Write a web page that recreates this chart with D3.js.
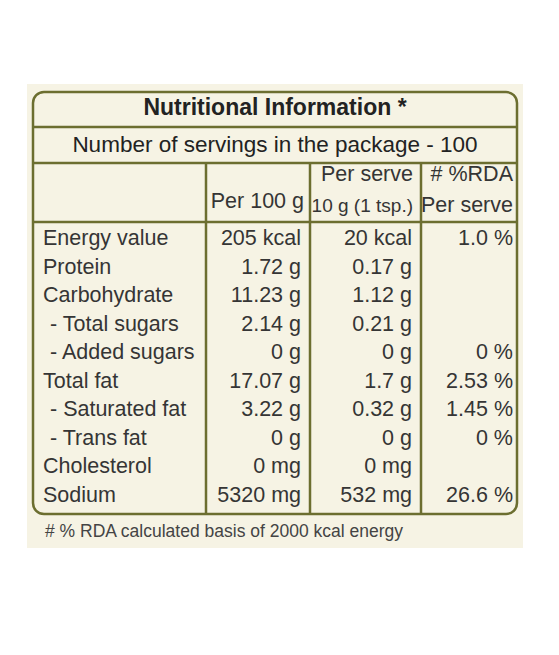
<!DOCTYPE html>
<html>
<head>
<meta charset="utf-8">
<script src="https://cdn.jsdelivr.net/npm/d3@7"></script>
<style>
  body { margin: 0; background: #fff; }
  svg text { font-family: "Liberation Sans", Arial, sans-serif; fill: #353535; }
</style>
</head>
<body>
<div id="vis"></div>
<script>
// table content
var title = "Nutritional Information *";
var servings = "Number of servings in the package - 100";
var colHeads = [["Per 100 g"], ["Per serve", "10 g (1 tsp.)"], ["# %RDA", "Per serve"]];
var nutrients = ["Energy value", "Protein", "Carbohydrate", "- Total sugars", "- Added sugars",
                 "Total fat", "- Saturated fat", "- Trans fat", "Cholesterol", "Sodium"];
var per100 = ["205 kcal", "1.72 g", "11.23 g", "2.14 g", "0 g", "17.07 g", "3.22 g", "0 g", "0 mg", "5320 mg"];
var perServe = ["20 kcal", "0.17 g", "1.12 g", "0.21 g", "0 g", "1.7 g", "0.32 g", "0 g", "0 mg", "532 mg"];
var rda = ["1.0 %", "", "", "", "0 %", "2.53 %", "1.45 %", "0 %", "", "26.6 %"];
var footnote = "# % RDA calculated basis of 2000 kcal energy";

var W = 559, H = 655;
var border = "#6c6e30";
var box = {left: 33, right: 517, top: 92, bottom: 514};
var cols = [box.left, 206, 310, 421, box.right];
var fs = 21.5;

var svg = d3.select("#vis").append("svg")
    .attr("width", W)
    .attr("height", H);

//cream panel behind the table
svg.append("rect")
    .attr("x", 27).attr("y", 84)
    .attr("width", 496).attr("height", 464)
    .attr("fill", "#f6f3e4");

// row positions (baselines)
var y = d3.scalePoint()
    .domain(nutrients)
    .range([245, 502]);

//header lines
var hLines = [127, 163, 222];
svg.selectAll(".hline")
    .data(hLines)
    .enter().append("line")
    .attr("x1", box.left).attr("x2", box.right)
    .attr("y1", function(d){ return d; })
    .attr("y2", function(d){ return d; })
    .attr("stroke", border)
    .attr("stroke-width", 2.5);

svg.selectAll(".vline")
    .data(cols.slice(1, 4))
    .enter().append("line")
    .attr("x1", function(d){ return d; })
    .attr("x2", function(d){ return d; })
    .attr("y1", 163).attr("y2", box.bottom)
    .attr("stroke", border)
    .attr("stroke-width", 2.5);

svg.append("rect")
    .attr("x", box.left).attr("y", box.top)
    .attr("width", box.right - box.left)
    .attr("height", box.bottom - box.top)
    .attr("rx", 11)
    .attr("fill", "none")
    .attr("stroke", border)
    .attr("stroke-width", 2.5);

var mid = (box.left + box.right) / 2;
svg.append("text")
    .attr("x", mid).attr("y", 115)
    .attr("text-anchor", "middle")
    .attr("font-size", 23)
    .attr("font-weight", "bold")
    .style("fill", "#222")
    .text(title);

svg.append("text")
    .attr("x", mid).attr("y", 152)
    .attr("text-anchor", "middle")
    .attr("font-size", 22.5)
    .style("fill", "#222")
    .text(servings);

// column headers, right aligned
var rightEdge = [304, 413, 513];
colHeads.forEach(function(lines, i){
    var ys = lines.length == 1 ? [208] : [181, 212];
    lines.forEach(function(t, j){
        svg.append("text")
            .attr("x", rightEdge[i])
            .attr("y", ys[j])
            .attr("text-anchor", "end")
            .attr("font-size", (i == 1 && j == 1) ? 19 : fs)
            .text(t);
    });
});

// labels
svg.selectAll(".label")
    .data(nutrients)
    .enter().append("text")
    .attr("x", function(d){ return d.charAt(0) == "-" ? 50 : 43; })
    .attr("y", function(d){ return y(d); })
    .attr("font-size", fs)
    .text(function(d){ return d; });

var valueCols = [per100, perServe, rda];
var valueRight = [301, 412, 513];
valueCols.forEach(function(vals, i){
    svg.selectAll(".v" + i)
        .data(vals)
        .enter().append("text")
        .attr("x", valueRight[i])
        .attr("y", function(d, k){ return y(nutrients[k]); })
        .attr("text-anchor", "end")
        .attr("font-size", fs)
        .text(function(d){ return d; });
});

svg.append("text")
    .attr("x", 45).attr("y", 537)
    .attr("font-size", 17.5)
    .style("fill", "#444")
    .text(footnote);
</script>
</body>
</html>
